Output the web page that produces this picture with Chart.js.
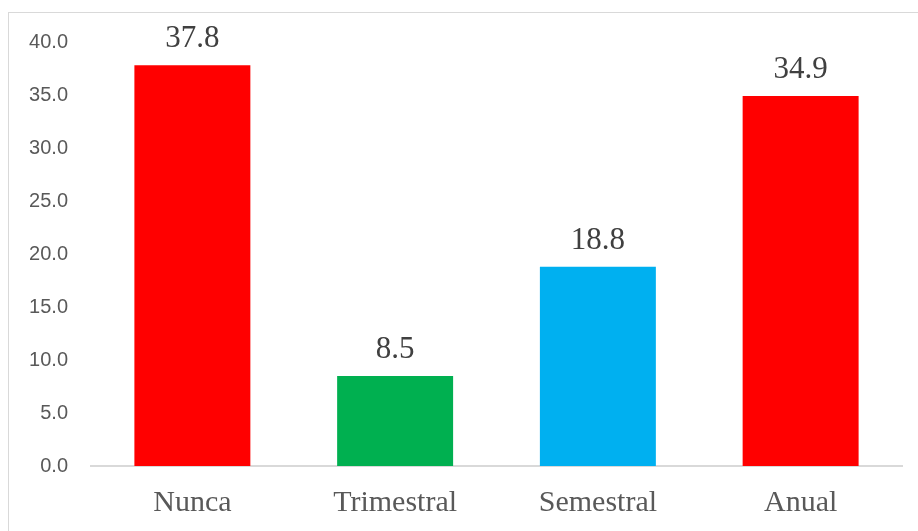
<!DOCTYPE html>
<html>
<head>
<meta charset="utf-8">
<script src="https://cdn.jsdelivr.net/npm/chart.js@4.4.1/dist/chart.umd.min.js"></script>
<style>
    html, body { margin: 0; padding: 0; background: #fff; overflow: hidden; }
    #wrap { position: relative; width: 918px; height: 531px; }
    #frame { position: absolute; left: 8px; top: 12px; width: 1000px; height: 1000px;
             border-left: 1px solid #d9d9d9; border-top: 1px solid #d9d9d9; }
    #chart { position: absolute; left: 0; top: 0; }
</style>
</head>
<body>
<div id="wrap">
    <div id="frame"></div>
    <canvas id="chart" width="918" height="531"></canvas>
</div>
<script>
// Chart data
const categories = ['Nunca', 'Trimestral', 'Semestral', 'Anual'];
const values = [37.8, 8.5, 18.8, 34.9];
const barColors = ['#FF0000', '#00B050', '#00B0F0', '#FF0000'];
const yTicks = [0, 5, 10, 15, 20, 25, 30, 35, 40];

// Value labels above each bar
const valueLabels = {
    id: 'valueLabels',
    afterDatasetsDraw(chart) {
        const ctx = chart.ctx;
        const meta = chart.getDatasetMeta(0);
        ctx.save();
        ctx.font = '31px "Liberation Serif", "Times New Roman", serif';
        ctx.fillStyle = '#404040';
        ctx.textAlign = 'center';
        ctx.textBaseline = 'alphabetic';
        meta.data.forEach((bar, i) => {
            ctx.fillText(values[i].toFixed(1), bar.x, bar.y - 18);
        });
        ctx.restore();
    }
};

new Chart(document.getElementById('chart'), {
    type: 'bar',
    data: {
        labels: categories,
        datasets: [{
            data: values,
            backgroundColor: barColors,
            borderWidth: 0,
            barPercentage: 0.572,
            categoryPercentage: 1
        }]
    },
    options: {
        responsive: false,
        animation: false,
        layout: {
            padding: { left: 0, top: 42, right: 16, bottom: 0 }
        },
        plugins: {
            legend: { display: false },
            tooltip: { enabled: false }
        },
        scales: {
            x: {
                grid: { display: false, drawTicks: false },
                border: { color: '#d9d9d9', width: 2 },
                ticks: {
                    color: '#595959',
                    padding: 19,
                    font: { family: '"Liberation Serif", "Times New Roman", serif', size: 30 }
                },
                afterFit: function(scale) {
                    scale.height = 65;
                }
            },
            y: {
                min: 0,
                max: 40,
                grid: { display: false, drawTicks: false },
                border: { display: false },
                afterBuildTicks: function(scale) {
                    scale.ticks = yTicks.map(v => ({ value: v }));
                },
                ticks: {
                    color: '#595959',
                    padding: 23,
                    font: { family: '"Liberation Sans", Arial, sans-serif', size: 20 },
                    callback: function(value) {
                        return Number(value).toFixed(1);
                    }
                },
                afterFit: function(scale) {
                    scale.width = 91;
                }
            }
        }
    },
    plugins: [valueLabels]
});
</script>
</body>
</html>
